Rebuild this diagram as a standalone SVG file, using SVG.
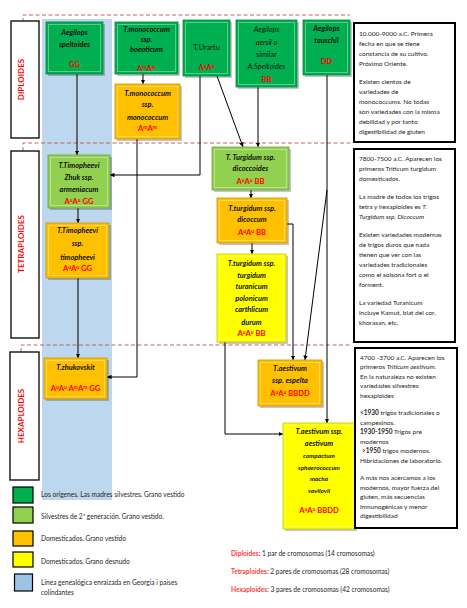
<svg xmlns="http://www.w3.org/2000/svg" width="467" height="608" viewBox="0 0 467 608">
<defs>
<marker id="ah" viewBox="0 0 6 6" refX="6" refY="3" markerWidth="4.5" markerHeight="4.5" orient="auto"><path d="M0,0 L6,3 L0,6z" fill="#000"/></marker>
<style>
.sh{fill:#000;opacity:.22}
.gr{fill:#00B050;stroke:#00863c;stroke-width:.8}
.lg{fill:#92D050;stroke:#6ea337;stroke-width:.8}
.or{fill:#FFC000;stroke:#c99500;stroke-width:.8}
.ye{fill:#FFFF00;stroke:#c9c900;stroke-width:.8}
.in{fill:none;stroke:#fff;stroke-opacity:.35;stroke-width:1}
.t{font-family:Lato,"Liberation Sans",sans-serif;font-size:7.4px;font-weight:bold;font-style:italic;fill:#111;text-anchor:middle}
.tn{font-family:Lato,"Liberation Sans",sans-serif;font-size:7.4px;fill:#111;text-anchor:middle}
.ts{font-family:Lato,"Liberation Sans",sans-serif;font-size:6.4px;font-weight:bold;font-style:italic;fill:#111;text-anchor:middle}
.r{font-family:Lato,"Liberation Sans",sans-serif;font-size:7.6px;font-weight:bold;fill:#FF0000;text-anchor:middle}
.sp{font-size:5px}
.lab{font-family:Lato,"Liberation Sans",sans-serif;font-size:8px;font-weight:bold;fill:#FF0000;text-anchor:middle}
.box{fill:#fff;stroke:#000;stroke-width:1.3}
.nb{fill:#fff;stroke:#000;stroke-width:2}
.bt{font-family:Lato,"Liberation Sans",sans-serif;font-size:6.5px;fill:#262626}
.lt{font-family:Lato,"Liberation Sans",sans-serif;font-size:6.6px;fill:#262626}
.dash{fill:none;stroke:#C0504D;stroke-width:.9;stroke-dasharray:4 2.5}
.ca{fill:none;stroke:#000;stroke-width:1;marker-end:url(#ah)}
.lk{stroke:#000;stroke-width:1.2}
.red{fill:#FF3B3B;font-weight:bold}
</style>
</defs>
<rect width="467" height="608" fill="#fff"/>
<rect x="42" y="19" width="70" height="481" fill="#BDD7EE"/>

<g id="dashes">
<path class="dash" d="M23,22 V15 H350"/>
<path class="dash" d="M23,151 V143 H350"/>
<path class="dash" d="M21,352 V345 H350"/>
</g>

<g id="lbl-diploides"><rect class="box" x="11" y="21" width="28" height="117"/><text class="lab" transform="translate(24.3,79.5) rotate(-90)">DIPLOIDES</text></g>
<g id="lbl-tetraploides"><rect class="box" x="11" y="151" width="28" height="187"/><text class="lab" transform="translate(24.3,244) rotate(-90)">TETRAPLOIDES</text></g>
<g id="lbl-hexaploides"><rect class="box" x="10" y="352" width="29" height="128"/><text class="lab" transform="translate(24,416) rotate(-90)">HEXAPLOIDES</text></g>

<g id="connectors">
<path class="ca" d="M77,74 V155"/>
<path class="ca" d="M78,208 V223"/>
<path class="ca" d="M78,278 V358"/>
<path class="ca" d="M143,74 V84"/>
<path class="ca" d="M137,139 V377 H107"/>
<path class="ca" d="M200,76 V175 H110"/>
<path class="ca" d="M217,76 L243,147"/>
<path class="ca" d="M258,87 V147"/>
<path class="ca" d="M251,190 V198"/>
<path class="ca" d="M252,243 V254"/>
<path class="ca" d="M287,224 H293 V360"/>
<path class="ca" d="M327,75 V423"/>
<path class="ca" d="M327,190 L305,360"/>
<path class="ca" d="M237,323 H225 V434 H283"/>
</g>

<g id="n-speltoides">
<rect class="sh" x="48" y="24" width="57" height="52"/><rect class="gr" x="46" y="22" width="57" height="52"/><rect class="in" x="48.5" y="24.5" width="52" height="47"/>
<text class="t" x="74.5" y="35">Aegilops</text><text class="t" x="74.5" y="46.5">speltoides</text><text class="r" x="74.5" y="67">GG</text>
</g>
<g id="n-boeoticum">
<rect class="sh" x="117" y="24" width="63" height="52"/><rect class="gr" x="115" y="22" width="63" height="52"/><rect class="in" x="117.5" y="24.5" width="58" height="47"/>
<text class="t" x="146.5" y="32">T.monococcum</text><text class="t" x="146.5" y="42">ssp.</text><text class="t" x="146.5" y="52">boeoticum</text><text class="r" x="146.5" y="71">A<tspan class="sp" dy="-2.5">m</tspan><tspan dy="2.5">A</tspan><tspan class="sp" dy="-2.5">m</tspan></text>
</g>
<g id="n-urartu">
<rect class="sh" x="185" y="22" width="47" height="56"/><rect class="gr" x="183" y="20" width="47" height="56"/><rect class="in" x="185.5" y="22.5" width="42" height="51"/>
<text class="tn" x="206.5" y="50">T.Urartu</text><text class="r" x="206.5" y="70">A<tspan class="sp" dy="-2.5">u</tspan><tspan dy="2.5">A</tspan><tspan class="sp" dy="-2.5">u</tspan></text>
</g>
<g id="n-aersil">
<rect class="sh" x="238" y="22" width="61" height="67"/><rect class="gr" x="236" y="20" width="61" height="67"/><rect class="in" x="238.5" y="22.5" width="56" height="62"/>
<text class="tn" x="266.5" y="32" font-style="italic">Aegilops</text><text class="tn" x="266.5" y="45" font-style="italic">aersil o</text><text class="tn" x="266.5" y="57">similar</text><text class="tn" x="266.5" y="69" font-style="italic">A.Speltoides</text><text class="r" x="266.5" y="82">BB</text>
</g>
<g id="n-tauschil">
<rect class="sh" x="305" y="22" width="47" height="55"/><rect class="gr" x="303" y="20" width="47" height="55"/><rect class="in" x="305.5" y="22.5" width="42" height="50"/>
<text class="t" x="326.5" y="31">Aegilops</text><text class="t" x="326.5" y="43">tauschil</text><text class="r" x="326.5" y="64">DD</text>
</g>
<g id="n-monococcum">
<rect class="sh" x="117" y="86" width="65" height="55"/><rect class="or" x="115" y="84" width="65" height="55"/><rect class="in" x="117.5" y="86.5" width="60" height="50"/>
<text class="t" x="147.5" y="96">T.monococcum</text><text class="t" x="147.5" y="107">ssp.</text><text class="t" x="147.5" y="120">monococcum</text><text class="r" x="147.5" y="131">A<tspan class="sp" dy="-2.5">m</tspan><tspan dy="2.5">A</tspan><tspan class="sp" dy="-2.5">m</tspan></text>
</g>
<g id="n-armeniacum">
<rect class="sh" x="50" y="157" width="62" height="53"/><rect class="lg" x="48" y="155" width="62" height="53"/><rect class="in" x="50.5" y="157.5" width="57" height="48"/>
<text class="t" x="79" y="168">T.Timopheevi</text><text class="t" x="79" y="180">Zhuk ssp.</text><text class="t" x="79" y="192">armeniacum</text><text class="r" x="79" y="204">A<tspan class="sp" dy="-2.5">u</tspan><tspan dy="2.5">A</tspan><tspan class="sp" dy="-2.5">u</tspan><tspan dy="2.5"> GG</tspan></text>
</g>
<g id="n-timopheevi">
<rect class="sh" x="48" y="225" width="63" height="55"/><rect class="or" x="46" y="223" width="63" height="55"/><rect class="in" x="48.5" y="225.5" width="58" height="50"/>
<text class="t" x="77.5" y="233">T.Timopheevi</text><text class="t" x="77.5" y="246">ssp.</text><text class="t" x="77.5" y="260">timopheevi</text><text class="r" x="77.5" y="271">A<tspan class="sp" dy="-2.5">u</tspan><tspan dy="2.5">A</tspan><tspan class="sp" dy="-2.5">u</tspan><tspan dy="2.5"> GG</tspan></text>
</g>
<g id="n-dicoccoides">
<rect class="sh" x="214" y="149" width="77" height="43"/><rect class="lg" x="212" y="147" width="77" height="43"/><rect class="in" x="214.5" y="149.5" width="72" height="38"/>
<text class="t" x="250.5" y="160">T. Turgidum  ssp.</text><text class="t" x="250.5" y="171">dicoccoides</text><text class="r" x="250.5" y="184">A<tspan class="sp" dy="-2.5">u</tspan><tspan dy="2.5">A</tspan><tspan class="sp" dy="-2.5">u</tspan><tspan dy="2.5"> BB</tspan></text>
</g>
<g id="n-dicoccum">
<rect class="sh" x="219" y="200" width="70" height="45"/><rect class="or" x="217" y="198" width="70" height="45"/><rect class="in" x="219.5" y="200.5" width="65" height="40"/>
<text class="t" x="252" y="211">T.turgidum ssp.</text><text class="t" x="252" y="222">dicoccum</text><text class="r" x="252" y="235">A<tspan class="sp" dy="-2.5">u</tspan><tspan dy="2.5">A</tspan><tspan class="sp" dy="-2.5">u</tspan><tspan dy="2.5"> BB</tspan></text>
</g>
<g id="n-turgidum">
<rect class="sh" x="219" y="256" width="69" height="88"/><rect class="ye" x="217" y="254" width="69" height="88"/><rect class="in" x="219.5" y="256.5" width="64" height="83"/>
<text class="t" x="251.5" y="266">T.turgidum  ssp.</text><text class="t" x="251.5" y="277.5">turgidum</text><text class="t" x="251.5" y="289">turanicum</text><text class="t" x="251.5" y="300.5">polonicum</text><text class="t" x="251.5" y="312">carthlicum</text><text class="t" x="251.5" y="325">durum</text><text class="r" x="251.5" y="336">A<tspan class="sp" dy="-2.5">u</tspan><tspan dy="2.5">A</tspan><tspan class="sp" dy="-2.5">u</tspan><tspan dy="2.5"> BB</tspan></text>
</g>
<g id="n-zhukovskit">
<rect class="sh" x="46" y="360" width="63" height="41"/><rect class="or" x="44" y="358" width="63" height="41"/><rect class="in" x="46.5" y="360.5" width="58" height="36"/>
<text class="t" x="75.5" y="370">T.zhukovskit</text><text class="r" x="75.5" y="391" font-size="6.6">A<tspan class="sp" dy="-2.5">u</tspan><tspan dy="2.5">A</tspan><tspan class="sp" dy="-2.5">u</tspan><tspan dy="2.5"> A</tspan><tspan class="sp" dy="-2.5">m</tspan><tspan dy="2.5">A</tspan><tspan class="sp" dy="-2.5">m</tspan><tspan dy="2.5"> GG</tspan></text>
</g>
<g id="n-espelta">
<rect class="sh" x="260" y="362" width="64" height="46"/><rect class="or" x="258" y="360" width="64" height="46"/><rect class="in" x="260.5" y="362.5" width="59" height="41"/>
<text class="t" x="290" y="371">T.aestivum</text><text class="t" x="290" y="383">ssp. espelta</text><text class="r" x="290" y="396">A<tspan class="sp" dy="-2.5">u</tspan><tspan dy="2.5">A</tspan><tspan class="sp" dy="-2.5">u</tspan><tspan dy="2.5"> BBDD</tspan></text>
</g>
<g id="n-aestivum">
<rect class="sh" x="285" y="425" width="72" height="106"/><rect class="ye" x="283" y="423" width="72" height="106"/><rect class="in" x="285.5" y="425.5" width="67" height="101"/>
<text class="t" x="319" y="434">T.aestivum ssp.</text><text class="t" x="319" y="446">aestivum</text><text class="ts" x="319" y="457.5">compactum</text><text class="ts" x="319" y="469.5">sphaerococcum</text><text class="ts" x="319" y="480.5">macha</text><text class="ts" x="319" y="492.5">vavilovii</text><text class="r" x="319" y="513">A<tspan class="sp" dy="-2.5">u</tspan><tspan dy="2.5">A</tspan><tspan class="sp" dy="-2.5">u</tspan><tspan dy="2.5"> BBDD</tspan></text>
</g>

<g id="note-1">
<rect class="nb" x="354" y="23" width="101" height="119"/>
<text class="bt" x="359" y="35.5">10.000-9000 a.C. Primera</text>
<text class="bt" x="359" y="45.5">fecha en que se tiene</text>
<text class="bt" x="359" y="55.5">constancia de su cultivo.</text>
<text class="bt" x="359" y="65.5">Próximo Oriente.</text>
<text class="bt" x="359" y="83.5">Existen cientos de</text>
<text class="bt" x="359" y="93.5">variedades de</text>
<text class="bt" x="359" y="103.5">monococcums. No todas</text>
<text class="bt" x="359" y="113.5">son variedades con la misma</text>
<text class="bt" x="359" y="123.5">debilidad y por tanto</text>
<text class="bt" x="359" y="133.5">digestibilidad de gluten</text>
</g>
<g id="note-2">
<rect class="nb" x="354" y="149" width="101" height="193"/>
<text class="bt" x="359" y="160.5">7800-7500 a.C. Aparecen los</text>
<text class="bt" x="359" y="170.5">primeros Triticum turgidum</text>
<text class="bt" x="359" y="180.5">domesticados.</text>
<text class="bt" x="359" y="198.5">La madre de  todos los trigos</text>
<text class="bt" x="359" y="208.5">tetra y hexaploides es <tspan font-style="italic">T.</tspan></text>
<text class="bt" x="359" y="218.5" font-style="italic">Turgidum ssp. Dicoccum</text>
<text class="bt" x="359" y="236.5">Existen variedades modernas</text>
<text class="bt" x="359" y="246.5">de trigos duros que nada</text>
<text class="bt" x="359" y="256.5">tienen que ver con las</text>
<text class="bt" x="359" y="266.5">variedades tradicionales</text>
<text class="bt" x="359" y="276.5">como el solsona fort o el</text>
<text class="bt" x="359" y="286.5">forment.</text>
<text class="bt" x="359" y="304.5">La variedad Turanicum</text>
<text class="bt" x="359" y="314.5">incluye Kamut, blat del cor,</text>
<text class="bt" x="359" y="324.5">khorasan, etc.</text>
</g>
<g id="note-3">
<rect class="nb" x="355" y="348" width="102" height="180"/>
<text class="bt" x="360" y="359.5">4700 -3700 a.C. Aparecen los</text>
<text class="bt" x="360" y="369">primeros <tspan font-style="italic">Triticum aestivum</tspan>.</text>
<text class="bt" x="360" y="378.5">En la naturaleza no existen</text>
<text class="bt" x="360" y="388">variedades silvestres</text>
<text class="bt" x="360" y="397.5">hexaploides</text>
<text class="bt" x="360" y="415"><tspan font-weight="bold">&lt;1930</tspan> trigos tradicionales o</text>
<text class="bt" x="360" y="424.5">campesinos.</text>
<text class="bt" x="360" y="434"><tspan font-weight="bold">1930-1950</tspan> Trigos pre</text>
<text class="bt" x="360" y="443.5">modernos</text>
<text class="bt" x="362" y="453"><tspan font-weight="bold">&gt;1950</tspan> trigos modernos.</text>
<text class="bt" x="360" y="462.5">Hibridaciones de laboratorio.</text>
<text class="bt" x="360" y="480">A más nos acercamos a los</text>
<text class="bt" x="360" y="489.5">modernos, mayor fuerza del</text>
<text class="bt" x="360" y="499">gluten, más secuencias</text>
<text class="bt" x="360" y="508.5">inmunogénicas y menor</text>
<text class="bt" x="360" y="518">digestibilidad</text>
</g>

<g id="legend">
<rect class="lk" x="13" y="487" width="20" height="16" fill="#00B050"/>
<text class="lt" x="41" y="497">Los orígenes. Las madres silvestres. Grano vestido</text>
<rect class="lk" x="13" y="507" width="20" height="16" fill="#92D050"/>
<text class="lt" x="41" y="519">Silvestres de 2ª generación. Grano vestido.</text>
<rect class="lk" x="13" y="531" width="20" height="15" fill="#FFC000"/>
<text class="lt" x="41" y="540.5">Domesticados. Grano vestido</text>
<rect class="lk" x="13" y="552" width="20" height="15" fill="#FFFF00"/>
<text class="lt" x="41" y="563.5">Domesticados. Grano desnudo</text>
<rect class="lk" x="14.5" y="574" width="18" height="17" fill="#9DC3E6"/>
<text class="lt" x="41" y="584.5">Línea genealógica enraizada en Georgia i paises</text>
<text class="lt" x="41" y="594.5">colindantes</text>
</g>
<g id="ploidy-notes">
<text class="lt" x="231" y="555.5" font-size="6.8"><tspan class="red">Diploides</tspan>: 1 par de cromosomas (14 cromosomas)</text>
<text class="lt" x="231" y="573.5" font-size="6.8"><tspan class="red">Tetraploides</tspan>: 2 pares de cromosomas (28 cromosomas)</text>
<text class="lt" x="231" y="591.5" font-size="6.8"><tspan class="red">Hexaploides</tspan>: 3 pares de cromosomas (42 cromosomas)</text>
</g>
</svg>
